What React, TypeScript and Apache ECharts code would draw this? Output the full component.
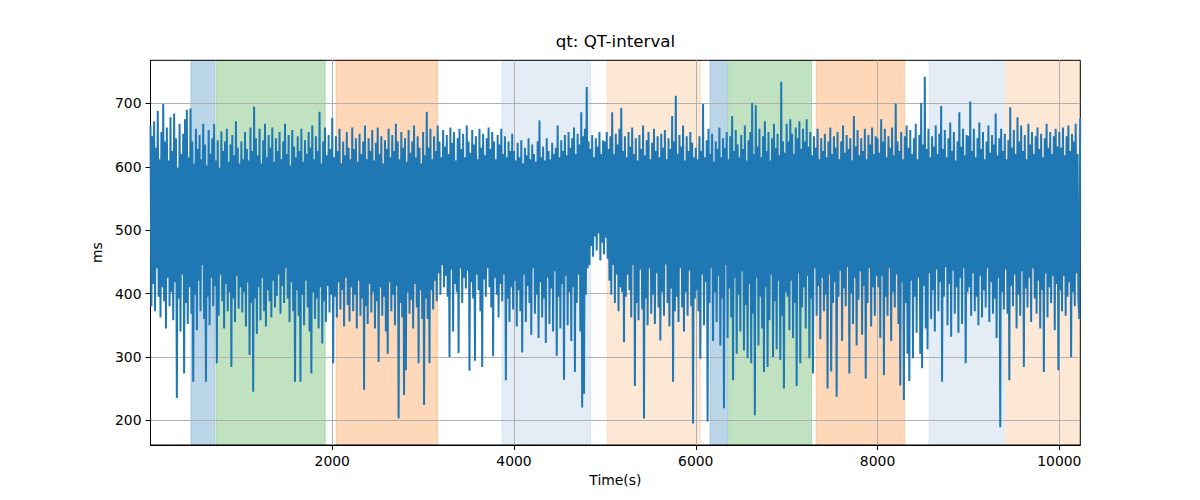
import React, { useEffect, useRef } from "react";
import * as echarts from "echarts";

// ---- data ----
const TIME_STEP = 10; // seconds between samples
const X_MIN = 0;
const X_MAX = 10231;
const Y_MIN = 161;
const Y_MAX = 768;
const X_TICKS = [2000, 4000, 6000, 8000, 10000];
const Y_TICKS = [200, 300, 400, 500, 600, 700];

// QT interval (ms), one array per 1000 s of recording
const QT_0000 = [665, 380, 648, 415, 672, 372, 630, 440, 688, 395, 612, 362, 655, 410, 699, 388, 640, 345, 662, 425, 610, 380, 678, 402, 625, 358, 684, 418, 645, 235, 598, 392, 668, 340, 620, 430, 652, 274, 675, 385, 690, 352, 615, 410, 692, 368, 640, 261, 605, 398, 660, 342, 628, 420, 650, 372, 612, 445, 668, 360, 635, 261, 602, 395, 658, 350, 620, 425, 645, 380, 668, 412, 610, 290, 642, 365, 598, 430, 656, 388, 625, 345, 640, 415, 660, 372, 608, 402, 635, 284, 650, 392, 618, 355, 672, 428, 630, 376, 605, 410];
const QT_1000 = [640, 370, 612, 402, 655, 348, 628, 418, 610, 303, 662, 385, 625, 245, 695, 392, 645, 336, 618, 410, 660, 358, 605, 425, 642, 372, 668, 348, 615, 405, 650, 388, 630, 362, 662, 420, 608, 378, 645, 396, 625, 430, 655, 368, 612, 412, 640, 385, 668, 440, 620, 392, 650, 355, 602, 418, 658, 372, 632, 261, 615, 405, 648, 365, 625, 261, 660, 398, 608, 350, 642, 420, 620, 378, 655, 340, 630, 274, 665, 402, 612, 360, 648, 392, 625, 345, 687, 410, 605, 321, 640, 388, 662, 355, 618, 412, 650, 370, 628, 398];
const QT_2000 = [677, 290, 615, 395, 648, 362, 625, 418, 660, 375, 605, 405, 640, 348, 618, 425, 655, 382, 630, 356, 612, 410, 662, 372, 628, 398, 645, 345, 608, 420, 652, 365, 620, 392, 640, 248, 665, 380, 612, 352, 645, 415, 625, 370, 658, 402, 610, 345, 638, 388, 662, 292, 620, 410, 648, 365, 605, 395, 642, 340, 628, 305, 660, 418, 615, 372, 650, 398, 625, 350, 668, 412, 640, 203, 612, 385, 655, 362, 630, 240, 645, 279, 608, 402, 658, 368, 622, 390, 640, 345, 665, 415, 615, 378, 648, 290, 630, 405, 605, 360];
const QT_3000 = [655, 224, 618, 392, 687, 360, 630, 290, 660, 405, 612, 375, 648, 420, 625, 388, 665, 432, 640, 398, 615, 445, 658, 410, 632, 428, 650, 395, 620, 300, 662, 438, 638, 340, 655, 415, 610, 402, 645, 306, 660, 440, 628, 385, 652, 425, 615, 408, 665, 436, 640, 278, 622, 418, 658, 392, 635, 294, 648, 430, 612, 405, 660, 372, 630, 284, 652, 422, 618, 395, 645, 440, 662, 410, 628, 378, 655, 301, 640, 425, 612, 398, 650, 362, 635, 415, 660, 388, 620, 430, 648, 263, 615, 392, 640, 355, 625, 410, 652, 375];
const QT_4000 = [625, 420, 610, 348, 638, 405, 615, 372, 642, 307, 605, 430, 630, 355, 618, 412, 645, 385, 612, 335, 635, 440, 620, 368, 608, 398, 640, 330, 673, 418, 615, 362, 632, 392, 610, 322, 645, 425, 625, 352, 612, 408, 638, 340, 620, 435, 630, 302, 665, 395, 615, 345, 642, 415, 625, 264, 650, 428, 618, 350, 655, 402, 630, 325, 645, 410, 662, 276, 620, 385, 652, 430, 635, 340, 686, 220, 648, 242, 660, 398, 726, 440, 640, 445, 628, 475, 650, 458, 615, 490, 645, 468, 632, 495, 655, 452, 620, 480, 642, 462];
const QT_5000 = [640, 488, 655, 455, 628, 420, 648, 398, 686, 445, 620, 385, 652, 430, 635, 372, 660, 410, 693, 402, 625, 323, 648, 395, 615, 430, 655, 405, 632, 362, 662, 445, 620, 254, 645, 385, 610, 358, 650, 438, 628, 375, 665, 203, 618, 392, 642, 350, 655, 440, 612, 368, 638, 398, 660, 352, 625, 432, 648, 378, 615, 326, 652, 402, 630, 365, 658, 446, 612, 385, 645, 348, 628, 408, 680, 261, 640, 372, 712, 395, 620, 355, 650, 440, 632, 378, 665, 340, 610, 402, 648, 365, 625, 436, 655, 380, 638, 195, 615, 392];
const QT_6000 = [630, 405, 612, 372, 648, 297, 625, 430, 699, 350, 615, 418, 642, 198, 660, 385, 620, 440, 652, 325, 608, 402, 640, 355, 628, 428, 662, 318, 615, 392, 645, 219, 630, 445, 655, 330, 612, 408, 648, 362, 680, 263, 625, 425, 658, 305, 635, 398, 615, 340, 650, 435, 628, 310, 665, 382, 610, 298, 642, 415, 655, 290, 701, 368, 620, 208, 697, 425, 632, 318, 660, 395, 615, 345, 648, 276, 672, 410, 625, 284, 655, 358, 610, 430, 645, 300, 668, 388, 630, 312, 652, 420, 618, 295, 734, 365, 640, 250, 622, 402];
const QT_7000 = [668, 395, 640, 342, 675, 420, 652, 330, 620, 385, 662, 254, 645, 432, 672, 290, 628, 378, 660, 410, 640, 345, 675, 428, 632, 298, 655, 392, 618, 274, 648, 440, 630, 365, 660, 412, 612, 328, 645, 425, 625, 372, 652, 398, 615, 250, 640, 430, 662, 277, 620, 385, 648, 418, 630, 237, 655, 395, 612, 436, 640, 325, 665, 408, 622, 380, 650, 442, 628, 274, 645, 400, 610, 352, 680, 425, 632, 318, 658, 390, 618, 435, 645, 335, 625, 412, 660, 266, 612, 385, 650, 440, 635, 348, 662, 410, 620, 365, 648, 428];
const QT_8000 = [645, 410, 622, 330, 675, 428, 640, 271, 660, 395, 615, 365, 648, 440, 630, 325, 662, 402, 618, 378, 700, 430, 640, 352, 625, 255, 655, 418, 612, 232, 648, 385, 665, 305, 630, 262, 658, 420, 620, 298, 645, 395, 668, 338, 612, 425, 650, 305, 701, 282, 635, 412, 742, 345, 628, 312, 660, 432, 615, 360, 648, 405, 632, 340, 665, 438, 620, 372, 652, 418, 696, 261, 628, 395, 658, 442, 615, 350, 645, 415, 670, 332, 625, 436, 655, 368, 610, 410, 640, 338, 686, 425, 632, 352, 660, 440, 618, 290, 650, 402];
const QT_9000 = [648, 410, 703, 365, 625, 432, 660, 372, 615, 395, 645, 350, 670, 428, 628, 362, 655, 405, 612, 378, 640, 440, 665, 355, 622, 418, 650, 368, 635, 392, 684, 330, 618, 425, 645, 189, 660, 402, 625, 375, 652, 438, 612, 368, 642, 263, 694, 412, 630, 380, 658, 430, 620, 345, 678, 398, 640, 365, 665, 435, 625, 284, 650, 408, 612, 378, 668, 425, 635, 355, 655, 440, 620, 392, 648, 368, 662, 420, 628, 345, 652, 405, 615, 276, 645, 432, 668, 362, 630, 410, 655, 385, 620, 428, 648, 342, 660, 415, 632, 279];
const QT_10000 = [655, 405, 630, 372, 662, 428, 618, 365, 648, 395, 665, 418, 625, 300, 652, 402, 640, 380, 668, 432, 620, 392, 360, 676];

const QT_CHUNKS = [QT_0000, QT_1000, QT_2000, QT_3000, QT_4000, QT_5000, QT_6000, QT_7000, QT_8000, QT_9000, QT_10000];

// shaded intervals (seconds)
const SPAN_STARTS = [445, 720, 2041, 3867, 5023, 6156, 6362, 7323, 8566, 9410];
const SPAN_ENDS = [706, 1923, 3160, 4844, 6054, 6351, 7275, 8299, 9395, 10231];
const SPAN_KINDS = ["blue", "green", "orange", "lightblue", "lightorange", "blue", "green", "orange", "lightblue", "lightorange"];

const SPAN_STYLE: Record<string, { fill: string; edge: string }> = {
  blue: { fill: "#bcd6e9", edge: "rgba(31,119,180,0.25)" },
  green: { fill: "#c1e2c1", edge: "rgba(44,160,44,0.25)" },
  orange: { fill: "#fed8b9", edge: "rgba(255,127,14,0.25)" },
  lightblue: { fill: "#e4ecf6", edge: "rgba(31,119,180,0.1)" },
  lightorange: { fill: "#fde8d6", edge: "rgba(255,127,14,0.12)" },
};

const FONT = "DejaVu Sans";

export default function App() {
  const ref = useRef<HTMLDivElement>(null);

  useEffect(() => {
    if (!ref.current) return;
    const chart = echarts.init(ref.current, undefined, { renderer: "svg" });

    const lineData = QT_CHUNKS.flat().map((v, i) => [X_MIN + i * TIME_STEP, v]);

    const areaData = SPAN_STARTS.map((s, i) => {
      const st = SPAN_STYLE[SPAN_KINDS[i]];
      return [
        { xAxis: s, itemStyle: { color: st.fill, borderColor: st.edge, borderWidth: 1 } },
        { xAxis: SPAN_ENDS[i] },
      ];
    });

    const labelStyle = { fontFamily: FONT, fontSize: 13.9, color: "#000" };

    chart.setOption({
      animation: false,
      title: {
        text: "qt: QT-interval",
        left: 615.4,
        top: 32,
        textAlign: "center",
        padding: 0,
        textStyle: { fontFamily: FONT, fontSize: 16.7, fontWeight: "normal", color: "#000" },
      },
      grid: {
        left: 150.5,
        right: 119.7,
        top: 60.3,
        bottom: 55,
        show: true,
        borderColor: "#000",
        borderWidth: 1,
        backgroundColor: "transparent",
      },
      xAxis: {
        type: "value",
        min: X_MIN,
        max: X_MAX,
        interval: 2000,
        name: "Time(s)",
        nameLocation: "middle",
        nameGap: 28,
        nameTextStyle: labelStyle,
        axisLine: { show: true, onZero: false, lineStyle: { color: "#000", width: 1 } },
        axisTick: { show: true, length: 5, customValues: X_TICKS, lineStyle: { color: "#000", width: 1 } },
        axisLabel: {
          ...labelStyle,
          margin: 9,
          customValues: X_TICKS,
          formatter: (v: number) => (X_TICKS.includes(v) ? String(v) : ""),
        },
        splitLine: { show: true, lineStyle: { color: "#b0b0b0", width: 1 } },
      },
      yAxis: {
        type: "value",
        min: Y_MIN,
        max: Y_MAX,
        name: "ms",
        nameLocation: "middle",
        nameRotate: 90,
        nameGap: 36,
        nameTextStyle: labelStyle,
        axisLine: { show: true, lineStyle: { color: "#000", width: 1 } },
        axisTick: { show: true, length: 5, customValues: Y_TICKS, lineStyle: { color: "#000", width: 1 } },
        axisLabel: {
          ...labelStyle,
          margin: 9,
          customValues: Y_TICKS,
          formatter: (v: number) => (Y_TICKS.includes(v) ? String(v) : ""),
        },
        splitLine: { show: true, lineStyle: { color: "#b0b0b0", width: 1 } },
      },
      series: [
        {
          type: "line",
          name: "spans",
          z: -1,
          silent: true,
          symbol: "none",
          data: [[X_MIN, 500]],
          lineStyle: { opacity: 0 },
          markArea: { silent: true, z: -1, data: areaData },
        },
        {
          type: "line",
          name: "qt",
          z: 3,
          silent: true,
          symbol: "none",
          showSymbol: false,
          data: lineData,
          lineStyle: { color: "#1f77b4", width: 2 },
        },
      ],
    });

    return () => chart.dispose();
  }, []);

  return (
    <div
      ref={ref}
      style={{ position: "fixed", left: 0, top: 0, width: 1200, height: 500, background: "#fff" }}
    />
  );
}
